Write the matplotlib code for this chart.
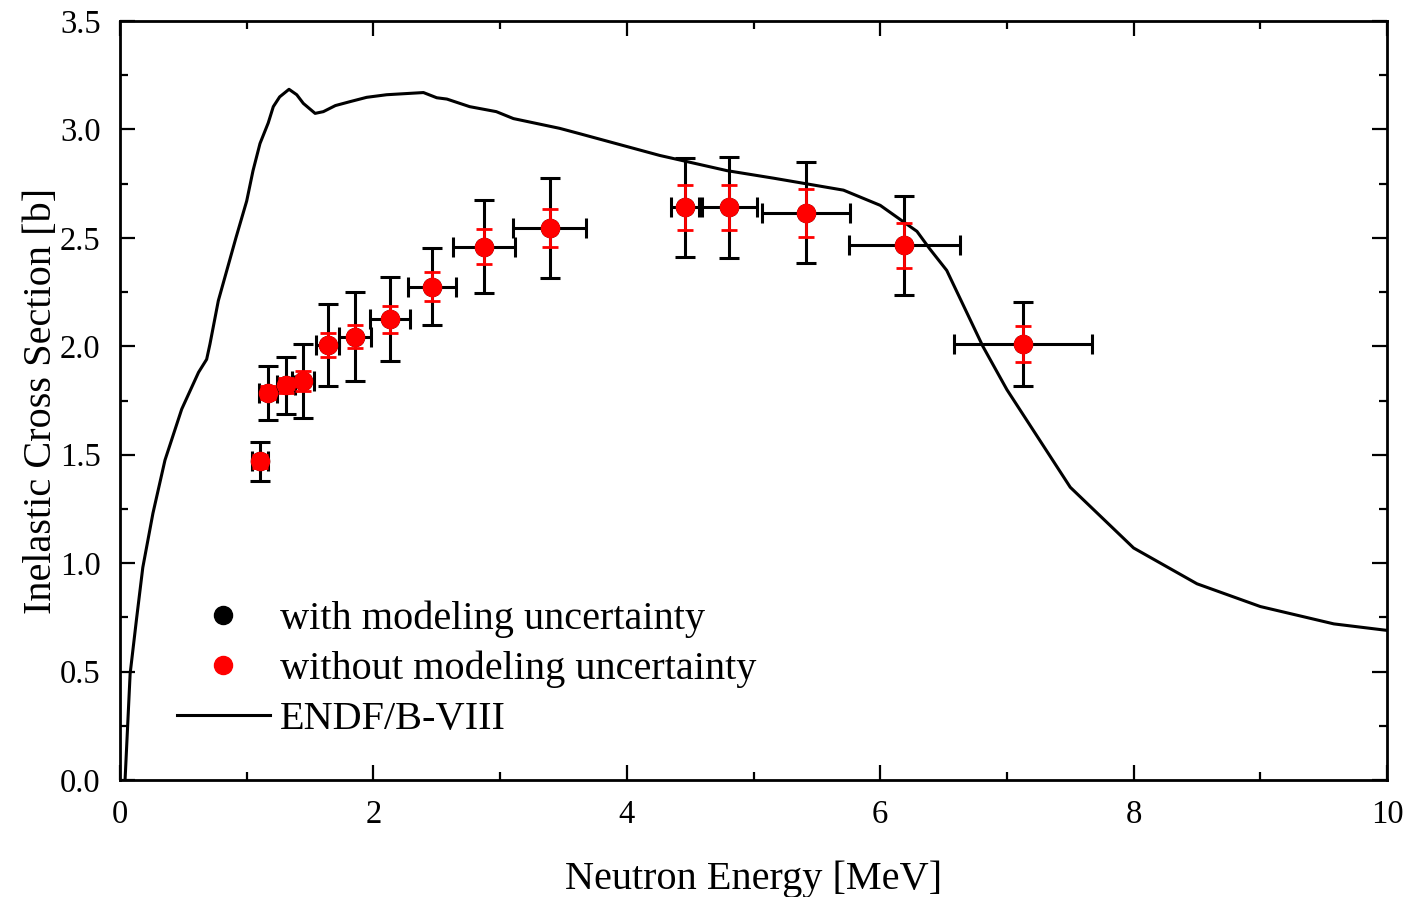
import numpy as np
import matplotlib
matplotlib.use("Agg")
import matplotlib.pyplot as plt
from matplotlib.lines import Line2D

plt.rcParams["font.family"] = ["Liberation Serif", "DejaVu Serif"]
plt.rcParams["mathtext.fontset"] = "stix"

# measured inelastic cross sections
energy = [1.105, 1.17, 1.31, 1.445, 1.64, 1.855, 2.13, 2.46, 2.87, 3.39,
          4.46, 4.81, 5.415, 6.19, 7.13]
sigma = [1.47, 1.785, 1.82, 1.84, 2.005, 2.045, 2.125, 2.275, 2.46, 2.545,
         2.64, 2.64, 2.615, 2.465, 2.01]
energy_err = [0.065, 0.07, 0.07, 0.085, 0.09, 0.13, 0.155, 0.19, 0.245, 0.29,
              0.11, 0.22, 0.35, 0.44, 0.545]
# total uncertainty (incl. modeling) and statistical/systematic only
err_with = [0.09, 0.125, 0.13, 0.17, 0.19, 0.205, 0.195, 0.178, 0.213, 0.23,
            0.23, 0.235, 0.233, 0.23, 0.193]
err_without = [0.03, 0.03, 0.035, 0.045, 0.055, 0.055, 0.063, 0.068, 0.08, 0.088,
               0.105, 0.105, 0.11, 0.105, 0.083]

# ENDF/B-VIII.0 evaluation
endf_e = [0.04, 0.08, 0.13, 0.18, 0.26, 0.355, 0.487, 0.62, 0.684, 0.71, 0.776,
          0.915, 1.0, 1.05, 1.105, 1.17, 1.21, 1.26, 1.334, 1.395, 1.447, 1.54,
          1.605, 1.70, 1.815, 1.947, 2.105, 2.395, 2.50, 2.58, 2.76, 2.97, 3.105,
          3.47, 3.63, 4.26, 4.79, 5.16, 5.71, 6.0, 6.29, 6.39, 6.525,
          6.81, 7.0, 7.5, 8.0, 8.5, 9.0, 9.58, 10.0]
endf_xs = [0.0, 0.49, 0.74, 0.98, 1.23, 1.475, 1.71, 1.88, 1.94, 2.01, 2.21,
           2.50, 2.67, 2.81, 2.935, 3.03, 3.105, 3.15, 3.185, 3.16, 3.12, 3.074,
           3.082, 3.11, 3.128, 3.148, 3.16, 3.17, 3.146, 3.14, 3.105, 3.082, 3.05,
           3.005, 2.98, 2.88, 2.81, 2.775, 2.72, 2.65, 2.53, 2.45, 2.35,
           2.0, 1.80, 1.35, 1.07, 0.905, 0.80, 0.72, 0.69]

fig = plt.figure(figsize=(14.10, 8.97), dpi=100)
ax = fig.add_axes([0.0851, 0.1304, 0.8986, 0.8462])

ax.plot(endf_e, endf_xs, color="black", lw=2.2, zorder=2)

ax.errorbar(energy, sigma, xerr=energy_err, yerr=err_with, fmt="o",
            color="black", ms=13, elinewidth=2.2, capsize=7, capthick=2.2,
            zorder=3)
ax.errorbar(energy, sigma, yerr=err_without, fmt="o", color="red",
            ms=13, elinewidth=2.0, capsize=5.5, capthick=2.0, zorder=4)

ax.set_xlim(0, 10)
ax.set_ylim(0, 3.5)
ax.set_xticks(np.arange(0, 11, 2))
ax.set_xticks(np.arange(1, 10, 2), minor=True)
ax.set_yticks(np.arange(0, 3.51, 0.5))
ax.set_yticks(np.arange(0.25, 3.5, 0.5), minor=True)
ax.yaxis.set_major_formatter(matplotlib.ticker.FormatStrFormatter("%.1f"))
ax.tick_params(which="both", direction="in", top=True, right=True,
               labelsize=23.5, width=1.6)
ax.tick_params(axis="x", pad=14)
ax.tick_params(axis="y", pad=14)
ax.tick_params(which="major", length=11)
ax.tick_params(which="minor", length=5.5)
for sp in ax.spines.values():
    sp.set_linewidth(2.0)

ax.set_xlabel("Neutron Energy [MeV]", fontsize=29, labelpad=22)
ax.set_ylabel("Inelastic Cross Section [b]", fontsize=29, labelpad=0)

handles = [
    Line2D([], [], ls="none", marker="o", color="black", ms=13),
    Line2D([], [], ls="none", marker="o", color="red", ms=13),
    Line2D([], [], color="black", lw=2.2),
]
labels = ["with modeling uncertainty", "without modeling uncertainty", "ENDF/B-VIII"]
ax.legend(handles, labels, loc="upper left", bbox_to_anchor=(0.045, 0.236),
          frameon=False, fontsize=29, handlelength=2.3, handletextpad=0.25,
          labelspacing=0.31, borderpad=0, borderaxespad=0)

fig.savefig("out.png", dpi=100)
